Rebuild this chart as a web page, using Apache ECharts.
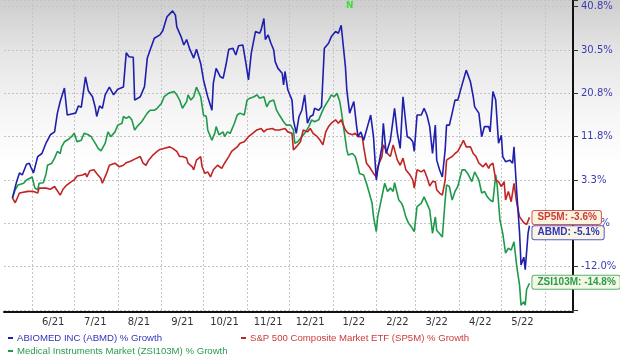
<!DOCTYPE html>
<html><head><meta charset="utf-8">
<script src="https://cdn.jsdelivr.net/npm/echarts@6/dist/echarts.min.js"></script>
<style>
html,body{margin:0;padding:0;background:#fff;}
#c{width:620px;height:356px;background:linear-gradient(to bottom,#cecece 0px,#e6e6e6 55px,#f6f6f6 115px,#ffffff 165px,#ffffff 356px);}
</style>
</head><body><div id="c"></div>
<script>
// x categories: calendar days shown on the axis
const startDate = '2021-05-12';
const dayCount = 406;
const firstLabelMonth = '2021-06', lastLabelMonth = '2022-05';
// y axis ticks (percent growth) and their labels
const yTickPct = [-12.0, -4.7, 3.3, 11.8, 20.8, 30.5, 40.8];
const yTickLabels = ['-12.0%', '-4.7%', '3.3%', '11.8%', '20.8%', '30.5%', '40.8%'];

// series: day offsets from startDate, and % growth values
const abmdDay = [6,9,11,13,16,18,19,21,24,27,28,30,33,36,38,40,43,45,48,51,53,55,58,60,63,65,66,68,70,72,75,78,81,85,87,89,92,93,97,100,102,104,107,111,113,116,118,120,122,123,126,128,130,132,135,137,140,142,145,148,149,151,154,156,158,160,163,165,167,170,172,174,176,179,182,183,185,186,188,190,192,193,195,198,199,200,202,205,206,208,210,212,214,216,218,220,221,224,226,228,231,233,236,238,240,243,244,246,249,251,252,254,256,259,261,263,265,266,269,270,272,275,278,280,282,284,287,289,291,292,294,297,299,301,303,305,307,308,310,312,314,315,317,319,321,323,326,327,329,332,334,335,338,340,342,345,346,348,350,352,354,355,357,360,362,363,365,367,368,370,371,373,374];
const abmdPct = [0.0,3.0,4.7,4.3,6.4,6.6,5.9,4.7,7.9,8.5,8.2,10.6,12.2,12.8,16.7,19.1,22.0,16.3,16.5,16.7,18.2,17.9,24.5,21.4,20.1,17.8,16.0,18.2,17.7,20.5,22.2,20.5,21.7,22.2,29.9,29.0,28.9,19.4,20.1,22.3,28.7,30.5,33.3,34.1,35.1,38.4,39.1,39.8,38.8,36.0,33.7,31.7,33.0,30.9,28.7,30.7,27.5,23.8,20.1,17.3,23.1,26.4,24.5,24.2,27.2,30.7,30.9,29.4,31.5,31.7,27.9,23.8,29.8,34.9,34.5,35.3,38.0,33.0,34.1,32.1,30.5,27.9,26.4,25.3,22.7,25.7,21.6,19.4,15.3,12.5,16.0,17.3,20.5,14.6,16.0,16.3,17.7,17.3,18.0,30.9,32.1,33.7,34.9,34.5,36.4,26.8,21.6,16.7,19.1,13.9,11.8,12.8,11.1,14.2,16.3,11.8,3.3,5.3,9.8,14.6,8.5,11.1,17.7,12.5,9.5,20.1,11.8,11.5,10.8,8.9,16.3,16.3,17.7,16.3,13.9,8.5,14.2,7.2,5.3,3.9,9.2,14.2,14.2,16.7,19.4,19.4,22.7,23.8,26.0,23.4,20.1,18.0,16.7,11.8,13.9,13.9,12.8,21.2,19.4,10.5,12.1,7.9,6.9,7.2,6.6,9.8,0.9,-6.4,-11.7,-10.4,-12.5,-6.4,-5.1];

const sp5mDay = [6,8,11,17,21,24,25,30,33,36,40,42,44,48,50,52,56,58,59,61,64,66,69,70,73,75,79,82,85,87,90,93,97,99,101,103,106,109,111,115,118,120,123,125,127,128,130,131,134,135,137,140,141,143,145,147,149,152,155,157,160,162,166,168,171,174,177,180,183,185,187,191,193,196,200,202,205,206,208,211,213,216,218,220,223,225,227,229,231,233,236,238,240,243,245,248,250,252,255,256,258,260,263,265,266,269,270,273,275,277,280,282,284,286,289,291,292,294,297,299,301,303,305,307,308,310,312,314,315,317,319,321,323,326,327,329,332,334,336,338,341,343,345,346,348,350,352,354,356,357,359,361,363,365,367,370,372,374];
const sp5mPct = [0.0,-0.9,0.9,1.2,1.2,0.9,1.8,1.8,1.6,2.1,0.5,1.6,2.2,3.0,3.3,4.1,4.3,4.6,3.9,5.1,5.3,4.6,3.6,2.7,4.6,6.2,6.6,5.9,6.2,6.7,7.0,7.4,7.9,6.6,6.2,7.2,8.2,8.9,9.3,9.6,9.8,9.5,8.9,7.9,7.9,8.2,7.6,6.6,5.9,5.3,7.2,7.9,5.9,4.6,4.9,3.9,5.3,6.2,5.6,6.6,7.9,8.9,9.8,10.5,10.8,11.8,12.5,13.2,13.5,12.8,13.3,13.5,13.2,13.2,13.5,12.8,12.5,9.2,9.8,10.8,13.2,12.8,13.5,12.5,11.8,11.1,10.2,12.8,13.9,14.6,15.3,14.6,15.3,13.2,12.5,12.2,12.5,11.8,11.8,9.8,6.6,5.9,4.6,3.9,5.9,7.9,10.2,8.5,7.9,10.2,7.2,6.2,7.6,5.3,4.3,3.3,1.8,5.3,4.9,5.3,3.9,2.2,3.0,3.0,1.5,0.9,0.5,3.3,7.2,7.6,7.9,8.5,8.9,10.5,11.1,9.8,9.8,8.5,7.9,6.6,5.9,6.6,5.6,6.2,6.6,3.3,3.0,2.1,3.0,-0.4,1.2,-0.7,2.7,-1.0,-3.5,-4.6,-4.9,-3.6];

const zsiDay = [6,8,10,14,16,18,20,22,24,25,28,30,31,34,36,38,40,41,43,46,48,50,52,55,57,60,62,65,67,69,72,74,76,79,81,84,85,87,89,91,93,95,98,100,102,104,107,109,112,114,117,121,123,125,127,130,131,133,135,137,140,142,144,145,148,150,151,153,156,157,159,161,164,166,168,171,173,175,178,180,182,185,187,189,192,194,196,199,201,204,206,207,209,212,214,217,219,221,224,226,228,231,233,235,237,239,240,242,244,245,248,250,252,253,256,258,260,262,263,265,266,268,270,271,273,275,277,278,281,283,284,286,288,290,292,294,297,299,301,303,305,307,308,310,312,314,315,317,319,321,323,326,328,330,333,335,338,340,342,344,346,348,350,351,353,355,357,359,361,363,365,367,368,370,371,372,374];
const zsiPct = [0.0,1.5,2.4,2.7,3.3,3.6,3.9,1.8,1.5,2.7,2.8,4.6,6.2,6.6,7.6,8.9,8.5,9.8,10.8,11.3,11.8,12.5,10.8,11.1,12.5,12.2,11.8,10.5,9.5,9.0,10.5,12.8,11.8,12.8,14.2,14.6,16.0,15.6,16.0,15.3,13.2,14.0,14.9,15.8,16.7,17.3,17.3,17.7,18.7,20.1,20.8,21.2,20.5,19.4,17.7,19.1,20.5,19.4,20.1,22.2,20.1,16.3,16.0,13.2,11.1,12.5,13.9,12.2,12.8,11.8,12.8,12.5,14.6,16.3,16.7,16.3,19.4,19.8,20.1,20.5,19.8,20.1,18.0,19.1,19.4,17.3,16.3,14.9,14.2,14.2,13.2,10.5,10.8,11.8,12.5,13.9,15.3,14.9,15.3,16.7,18.0,19.4,20.5,20.1,20.8,19.1,17.3,13.2,9.2,8.2,8.5,7.9,5.9,4.6,4.3,2.7,0.9,-1.0,-3.5,-6.1,-3.5,-1.0,1.5,2.7,1.2,1.8,1.2,2.8,-0.4,-1.0,-1.6,-3.5,-4.7,-5.3,-6.1,-1.6,-1.0,0.2,-1.0,-2.2,-6.4,-3.5,-5.9,-6.4,-7.0,-0.4,2.4,2.1,-0.4,1.2,2.1,5.3,5.3,4.6,3.0,4.9,3.3,0.9,1.2,0.2,-0.4,-0.7,4.3,2.4,-4.1,-6.4,-9.7,-8.9,-9.2,-7.8,-12.0,-15.2,-18.5,-17.9,-18.5,-15.8,-14.8];

const names = ['ABIOMED INC (ABMD) % Growth', 'S&P 500 Composite Market ETF (SP5M) % Growth', 'Medical Instruments Market (ZSI103M) % Growth'];
const shortNames = ['ABMD', 'SP5M', 'ZSI103M'];

// build day categories
const dates = [];
(function(){
  const t0 = Date.UTC(+startDate.slice(0,4), +startDate.slice(5,7)-1, +startDate.slice(8,10));
  for (let i = 0; i < dayCount; i++) {
    const d = new Date(t0 + i*86400000);
    dates.push(d.toISOString().slice(0,10));
  }
})();

// piecewise scale: % growth -> tick units (tick i at unit i)
function toU(p){
  const T = yTickPct, n = T.length;
  if (p <= T[0]) return (p - T[0]) / (T[1] - T[0]);
  for (let i = 0; i < n-1; i++) {
    if (p <= T[i+1]) return i + (p - T[i]) / (T[i+1] - T[i]);
  }
  return (n-1) + (p - T[n-1]) / (T[n-1] - T[n-2]);
}
function pairs(days, pct){
  const m = Math.min(days.length, pct.length);
  const out = [];
  for (let i = 0; i < m; i++) out.push([days[i], toU(pct[i])]);
  return out;
}
const last = a => a[a.length-1];

const colors = ['#1f1fae', '#c02424', '#1f9a4c'];
const textColors = ['#3434b8', '#cc3a3a', '#2a9a50'];
const borderColors = ['#5a5ac4', '#d45a5a', '#5cb070'];
const bgColors = ['#f8f5e2', '#fcf3de', '#f2f8e2'];
const seriesDays = [abmdDay, sp5mDay, zsiDay];
const seriesPct = [abmdPct, sp5mPct, zsiPct];
const labelOffsets = [[0, 7], [0, 0], [0, -1]];

const chart = echarts.init(document.getElementById('c'), null, {renderer: 'canvas'});
const series = [0,1,2].map(k => ({
  name: names[k],
  type: 'line',
  data: pairs(seriesDays[k], seriesPct[k]),
  showSymbol: false,
  symbol: 'none',
  lineStyle: {color: colors[k], width: 1.6},
  itemStyle: {color: colors[k]},
  z: k === 0 ? 4 : (k === 1 ? 3 : 2),
  endLabel: {
    show: true,
    formatter: () => shortNames[k] + ': ' + last(seriesPct[k]).toFixed(1) + '%',
    color: textColors[k],
    fontFamily: 'Liberation Sans, Arial, sans-serif',
    fontSize: 10,
    fontWeight: 'bold',
    backgroundColor: bgColors[k],
    borderColor: borderColors[k],
    borderWidth: 1,
    borderRadius: 2,
    padding: [2, 4, 1, 5],
    distance: 3,
    offset: labelOffsets[k]
  }
}));

const legendCommon = {
  icon: 'rect', itemWidth: 5, itemHeight: 2, itemGap: 0,
  textStyle: {fontSize: 9.6, fontFamily: 'Liberation Sans, Arial, sans-serif', padding: [0,0,0,-1]},
  selectedMode: false
};

const inLabelRange = v => v.slice(0,7) >= firstLabelMonth && v.slice(0,7) <= lastLabelMonth;

chart.setOption({
  animation: false,
  backgroundColor: 'transparent',
  grid: {left: 4, right: 47, top: 0, bottom: 46, containLabel: false, outerBoundsMode: 'none'},
  xAxis: {
    type: 'category',
    data: dates,
    boundaryGap: false,
    offset: 2,
    axisLine: {show: true, onZero: false, lineStyle: {color: '#111', width: 2}},
    axisTick: {show: false},
    axisLabel: {
      interval: (i, v) => v.slice(8,10) === '16' && inLabelRange(v),
      formatter: v => (+v.slice(5,7)) + '/' + v.slice(2,4),
      color: '#333', fontSize: 10, fontFamily: 'DejaVu Sans, Verdana, sans-serif', margin: 5
    },
    splitLine: {show: true, interval: (i, v) => v.slice(8,10) === '01', lineStyle: {color: '#c4c4c4', type: [2,2], width: 1}}
  },
  yAxis: {
    type: 'value',
    position: 'right',
    min: -1,
    max: 6.155,
    interval: 1,
    axisLine: {show: true, onZero: false, lineStyle: {color: '#111', width: 2}},
    axisTick: {show: true, length: 5, lineStyle: {color: '#333', width: 1}},
    axisLabel: {
      formatter: v => {
        const i = Math.round(v);
        if (Math.abs(v - i) > 1e-6 || i < 0 || i >= yTickLabels.length) return '';
        return yTickLabels[i];
      },
      color: '#3b3bb2', fontSize: 10, fontFamily: 'DejaVu Sans, Verdana, sans-serif', margin: 8
    },
    splitLine: {show: true, lineStyle: {color: '#c4c4c4', type: [2,2], width: 1}}
  },
  legend: [
    Object.assign({}, legendCommon, {left: 3, top: 328, data: [{name: names[0], textStyle: {color: textColors[0]}}]}),
    Object.assign({}, legendCommon, {left: 236, top: 328, data: [{name: names[1], textStyle: {color: textColors[1]}}]}),
    Object.assign({}, legendCommon, {left: 3, top: 341, data: [{name: names[2], textStyle: {color: textColors[2]}}]})
  ],
  graphic: [{type: 'text', left: 346, top: 1, style: {text: 'N', fill: '#36e036', font: 'bold 9px DejaVu Sans, sans-serif'}}],
  series: series
});
</script></body></html>
